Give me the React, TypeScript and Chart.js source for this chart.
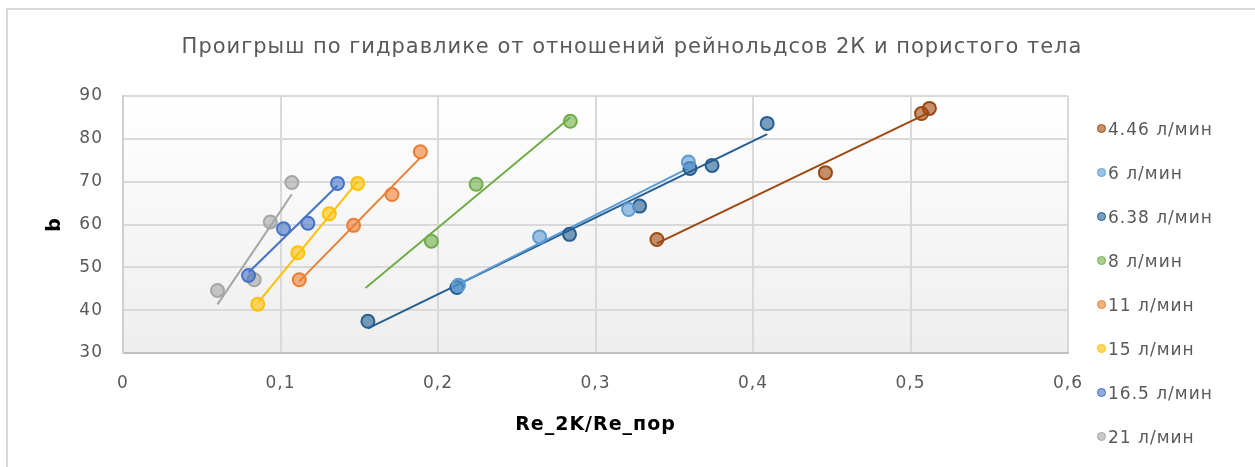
import React, { useEffect, useRef } from "react";
import { Chart, registerables } from "chart.js";

Chart.register(...registerables);

const TITLE = "Проигрыш по гидравлике от отношений рейнольдсов 2К и пористого тела";
const X_TITLE = "Re_2K/Re_пор";
const Y_TITLE = "b";

const seriesNames = ["4.46 л/мин", "6 л/мин", "6.38 л/мин", "8 л/мин", "11 л/мин", "15 л/мин", "16.5 л/мин", "21 л/мин"];
const seriesColors = ["#9E480E", "#5B9BD5", "#255E91", "#70AD47", "#ED7D31", "#FFC000", "#4472C4", "#A5A5A5"];

const x446 = [0.339, 0.446, 0.507, 0.512];
const y446 = [56.5, 72.1, 85.9, 87.1];
const x6 = [0.213, 0.2645, 0.321, 0.359];
const y6 = [45.8, 57.1, 63.5, 74.6];
const x638 = [0.1555, 0.212, 0.2835, 0.328, 0.36, 0.374, 0.409];
const y638 = [37.4, 45.3, 57.7, 64.3, 73.1, 73.8, 83.6];
const x8 = [0.1958, 0.2242, 0.284];
const y8 = [56.1, 69.4, 84.1];
const x11 = [0.1119, 0.1464, 0.1708, 0.1888];
const y11 = [47.1, 59.8, 67.0, 77.0];
const x15 = [0.0856, 0.111, 0.131, 0.149];
const y15 = [41.4, 53.4, 62.5, 69.6];
const x165 = [0.0797, 0.1019, 0.1174, 0.1362];
const y165 = [48.1, 59.0, 60.3, 69.6];
const x21 = [0.06, 0.0833, 0.0935, 0.1072];
const y21 = [44.6, 47.1, 60.6, 69.8];

const seriesX = [x446, x6, x638, x8, x11, x15, x165, x21];
const seriesY = [y446, y6, y638, y8, y11, y15, y165, y21];
// linear trendline backward forecast (start x), null = start at first point
const trendStart: (number | null)[] = [null, null, null, 0.154, null, null, null, null];

const xTicks = [0, 0.1, 0.2, 0.3, 0.4, 0.5, 0.6];
const yTicks = [30, 40, 50, 60, 70, 80, 90];

const LS = "1px";

function regression(xs: number[], ys: number[]) {
  const n = xs.length;
  const mx = xs.reduce((a, b) => a + b, 0) / n;
  const my = ys.reduce((a, b) => a + b, 0) / n;
  let sxy = 0, sxx = 0;
  for (let i = 0; i < n; i++) {
    sxy += (xs[i] - mx) * (ys[i] - my);
    sxx += (xs[i] - mx) * (xs[i] - mx);
  }
  const slope = sxy / sxx;
  return { slope, intercept: my - slope * mx };
}

const spacingPlugin = {
  id: "spacing",
  beforeLayout(chart: any) { chart.ctx.letterSpacing = LS; },
  beforeDraw(chart: any) { chart.ctx.letterSpacing = LS; },
};

const bgPlugin = {
  id: "plotBg",
  beforeDraw(chart: any) {
    const { ctx, chartArea } = chart;
    const g = ctx.createLinearGradient(0, chartArea.top, 0, chartArea.bottom);
    g.addColorStop(0, "#ffffff");
    g.addColorStop(1, "#eeeeee");
    ctx.save();
    ctx.fillStyle = g;
    ctx.fillRect(chartArea.left, chartArea.top, chartArea.right - chartArea.left, chartArea.bottom - chartArea.top);
    ctx.restore();
  },
};

export default function App() {
  const ref = useRef<HTMLCanvasElement>(null);

  useEffect(() => {
    document.body.style.margin = "0";
    const datasets: any[] = [];
    seriesNames.forEach((name, i) => {
      const xs = seriesX[i];
      const ys = seriesY[i];
      const { slope, intercept } = regression(xs, ys);
      const x0 = trendStart[i] ?? Math.min(...xs);
      const x1 = Math.max(...xs);
      datasets.push({
        label: name + " trend",
        data: [
          { x: x0, y: slope * x0 + intercept },
          { x: x1, y: slope * x1 + intercept },
        ],
        showLine: true,
        borderColor: seriesColors[i],
        borderWidth: 2,
        pointRadius: 0,
        order: 2,
      });
    });
    seriesNames.forEach((name, i) => {
      datasets.push({
        label: name,
        data: seriesX[i].map((x, j) => ({ x, y: seriesY[i][j] })),
        showLine: false,
        backgroundColor: seriesColors[i] + "99",
        borderColor: seriesColors[i],
        borderWidth: 2,
        pointRadius: 6.5,
        order: 1,
      });
    });

    const chart = new Chart(ref.current!, {
      type: "scatter",
      data: { datasets },
      plugins: [spacingPlugin, bgPlugin],
      options: {
        animation: false,
        responsive: false,
        layout: { padding: { left: 9, right: 0, top: 0, bottom: 0 } },
        plugins: {
          legend: { display: false },
          tooltip: { enabled: false },
          title: {
            display: true,
            text: TITLE,
            color: "#595959",
            font: { family: "DejaVu Sans", size: 21, weight: "normal" },
            padding: { top: 35, bottom: 35.8 },
          },
        },
        scales: {
          x: {
            type: "linear",
            min: 0,
            max: 0.6,
            afterBuildTicks(scale: any) {
              scale.ticks = xTicks.map((v) => ({ value: v }));
            },
            afterFit(scale: any) { scale.height = 114; },
            ticks: {
              color: "#595959",
              font: { family: "DejaVu Sans", size: 17 },
              padding: 20,
              callback: (v: any) => (v === 0 ? "0" : Number(v).toFixed(1).replace(".", ",")),
            },
            grid: { color: "#d9d9d9", lineWidth: 2, drawTicks: false },
            border: { display: true, color: "#bfbfbf", width: 2 },
            title: {
              display: true,
              text: X_TITLE,
              color: "#000000",
              font: { family: "DejaVu Sans", size: 19, weight: "bold" },
              padding: { top: 0, bottom: 30.6 },
            },
          },
          y: {
            type: "linear",
            min: 30,
            max: 90,
            afterBuildTicks(scale: any) {
              scale.ticks = yTicks.map((v) => ({ value: v }));
            },
            afterFit(scale: any) { scale.width = 114; },
            ticks: {
              color: "#595959",
              font: { family: "DejaVu Sans", size: 17 },
              padding: 20,
            },
            grid: { color: "#d9d9d9", lineWidth: 2, drawTicks: false },
            border: { display: true, color: "#d0d0d0", width: 2 },
            title: {
              display: true,
              text: Y_TITLE,
              color: "#000000",
              font: { family: "DejaVu Sans", size: 19, weight: "bold" },
              padding: { top: 34.6, bottom: 0 },
            },
          },
          legendSpace: {
            type: "linear",
            position: "right",
            display: true,
            afterFit(scale: any) { scale.width = 187; },
            ticks: { display: false },
            grid: { display: false, drawTicks: false },
            border: { display: false },
          },
        },
      },
    } as any);
    return () => chart.destroy();
  }, []);

  return (
    <div style={{ position: "fixed", left: 0, top: 0, width: 1255, height: 467, overflow: "hidden", background: "#fff" }}>
      <div style={{ position: "absolute", left: 6, top: 8, width: 1400, height: 600, border: "2px solid #d9d9d9" }} />
      <canvas ref={ref} width={1255} height={467} style={{ position: "absolute", left: 0, top: 0, width: 1255, height: 467 }} />
      {seriesNames.map((name, i) => {
        const cy = 129 + i * 44;
        return (
          <div key={name}>
            <div
              style={{
                position: "absolute",
                left: 1097,
                top: cy - 5,
                width: 7,
                height: 7,
                borderRadius: "50%",
                border: `1.5px solid ${seriesColors[i]}`,
                background: seriesColors[i] + "99",
              }}
            />
            <div
              style={{
                position: "absolute",
                left: 1108,
                top: cy - 12,
                height: 24,
                lineHeight: "24px",
                fontFamily: "DejaVu Sans",
                fontSize: 17,
                letterSpacing: LS,
                color: "#595959",
                whiteSpace: "nowrap",
              }}
            >
              {name}
            </div>
          </div>
        );
      })}
    </div>
  );
}
